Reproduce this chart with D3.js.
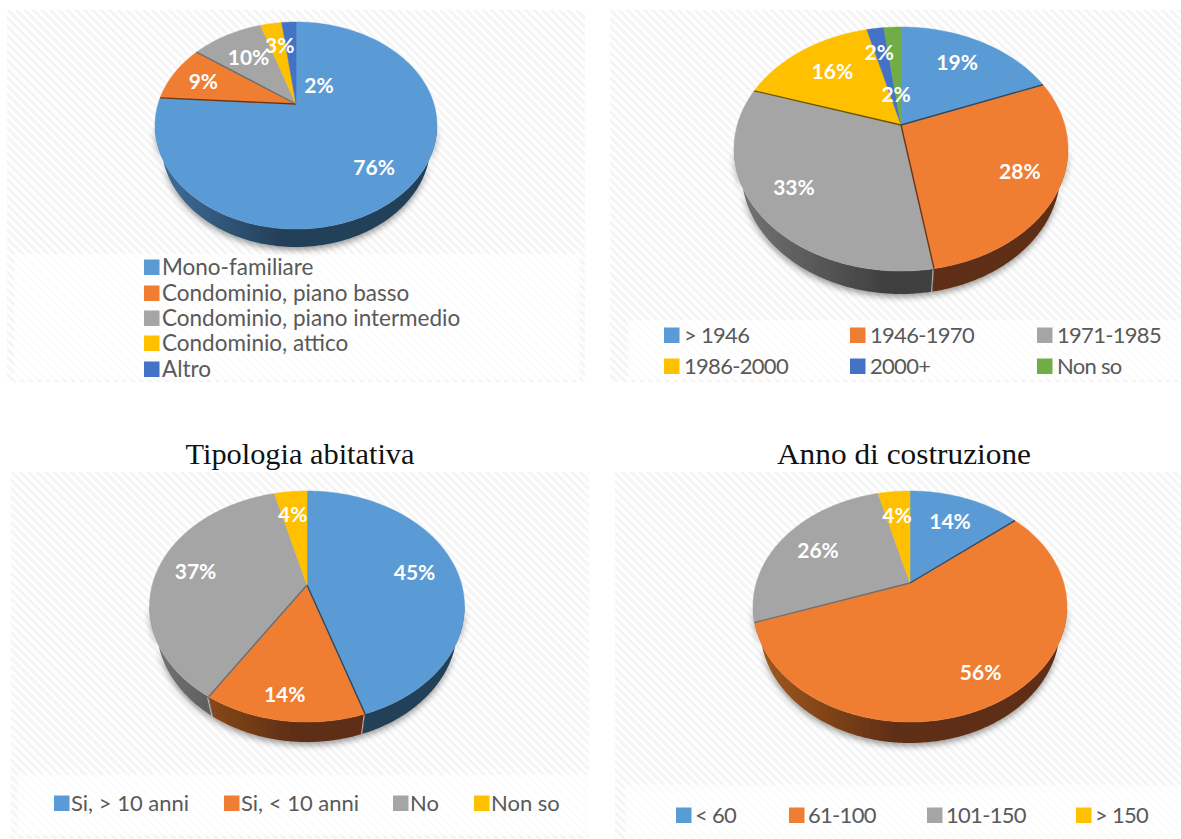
<!DOCTYPE html>
<html>
<head>
<meta charset="utf-8">
<style>
    body { margin: 0; background: #fff; }
    svg { display: block; }
    .legend text { font-family: Lato, "Open Sans", sans-serif; fill: #595959; }
    .pct { font-family: Lato, "Open Sans", sans-serif; font-size: 21px; font-weight: 700; fill: #fff; text-anchor: middle; }
    .title { font-family: "Liberation Serif", serif; font-size: 30px; fill: #111; text-anchor: middle; }
</style>
</head>
<body>
<svg width="1181" height="839"></svg>
<script src="https://d3js.org/d3.v7.min.js"></script>
<script>
    // data
    var tipoNames = ["Mono-familiare", "Condominio, piano basso", "Condominio, piano intermedio", "Condominio, attico", "Altro"];
    var tipoValues = [76, 9, 10, 3, 2];
    var annoNames = ["> 1946", "1946-1970", "1971-1985", "1986-2000", "2000+", "Non so"];
    var annoValues = [19, 28.4, 32.6, 16, 2, 2];
    var ristrNames = ["Si, > 10 anni", "Si, < 10 anni", "No", "Non so"];
    var ristrValues = [45, 14, 37, 4];
    var superfNames = ["< 60", "61-100", "101-150", "> 150"];
    var superfValues = [14, 55.6, 26.4, 4];
    var titles = ["Tipologia abitativa", "Anno di costruzione"];

    var colors = ["#5b9bd5", "#ef7e32", "#a5a5a5", "#ffc000", "#4472c4", "#70ad47"];
    var sideLight = ["#40709c", "#a55a20", "#767676", "#a87f00", "#2f4f88", "#4a7530"];
    var sideDark = ["#233f59", "#5f2f12", "#404040", "#665000", "#203864", "#375623"];
    var cutDark = ["#2a4a68", "#6b3513", "#6e6e6e", "#6b5500", "#203864", "#375623"];

    // layout: panel rects, pie ellipse, label nudges from the projected centroid, legend slots
    var charts = [
        {
            names: tipoNames, values: tipoValues,
            panel: [7, 10, 578, 372], inner: [14, 254, 566, 126],
            cx: 296, cy: 125.5, rx: 141, ry: 103.5, apex: 104, depth: 18,
            nudge: [[10, 12], [-12, -1], [0, 1], [1, -2], [28, 39]],
            legX: [144, 144, 144, 144, 144], legY: [267, 293, 318, 343, 369],
            legSize: 22.5, legSpacing: 0, legGap: 18
        },
        {
            names: annoNames, values: annoValues,
            panel: [610, 10, 571, 372], inner: [628, 320, 553, 60],
            cx: 901, cy: 149, rx: 167, ry: 122, apex: 125, depth: 23,
            nudge: [[2, -5], [20, 7], [-19, 9], [-2, -2], [-4, -5], [1, 37]],
            legX: [664, 850, 1037, 664, 850, 1037], legY: [335, 335, 335, 366, 366, 366],
            legSize: 22, legSpacing: -0.7, legGap: 20
        },
        {
            names: ristrNames, values: ristrValues,
            panel: [11, 472, 578, 367], inner: [17, 775, 572, 60],
            cx: 307, cy: 606.5, rx: 157.5, ry: 115.5, apex: 585, depth: 20,
            nudge: [[10, -1], [-8, 28], [-14, -2], [-3, -6]],
            legX: [54, 224, 393, 474], legY: [803, 803, 803, 803],
            legSize: 22, legSpacing: 0, legGap: 17
        },
        {
            names: superfNames, values: superfValues,
            panel: [615, 472, 566, 367], inner: [625, 785, 556, 54],
            cx: 910, cy: 606.5, rx: 157, ry: 115.5, apex: 583, depth: 21,
            nudge: [[2, -3], [15, 19], [-9, 0], [-2, -4]],
            legX: [676, 789, 927, 1076], legY: [815, 815, 815, 815],
            legSize: 22, legSpacing: -0.7, legGap: 19
        }
    ];
    var wallShrink = 0.955;

    var svg = d3.select("svg");
    var defs = svg.append("defs");

    function stripes(id, stripe) {
        var p = defs.append("pattern")
            .attr("id", id)
            .attr("width", 6).attr("height", 6)
            .attr("patternUnits", "userSpaceOnUse")
            .attr("patternTransform", "rotate(45)");
        p.append("rect").attr("width", 6).attr("height", 6).attr("fill", "#fff");
        p.append("rect").attr("width", 6).attr("height", 3).attr("fill", stripe);
    }
    stripes("hatch", "#f5f5f5");
    stripes("hatchSoft", "#fcfcfc");

    var shadow = defs.append("filter").attr("id", "shadow")
        .attr("x", "-10%").attr("y", "-10%").attr("width", "120%").attr("height", "130%");
    shadow.append("feDropShadow")
        .attr("dx", 0).attr("dy", 3).attr("stdDeviation", 3)
        .attr("flood-color", "#000").attr("flood-opacity", 0.4);

    var pie = d3.pie().sort(null).value(function (d) { return d; });
    var line = d3.line();

    charts.forEach(function (c, n) {
        var g = svg.append("g");
        var a = (c.apex - c.cy) / c.ry;
        var s = Math.sqrt(1 - a * a);

        // tilted disc: maps the unit circle to the ellipse, and its centre to the apex
        function project(r, angle) {
            var u = r * Math.sin(angle), v = -r * Math.cos(angle), d = 1 + a * v;
            return [c.cx + c.rx * u * s / d, c.cy + c.ry * (v + a) / d];
        }
        // bottom of the wall sits a bit narrower than the top face
        function drop(p) {
            return [c.cx + (p[0] - c.cx) * wallShrink, p[1] + c.depth];
        }

        g.append("rect")
            .attr("x", c.panel[0]).attr("y", c.panel[1])
            .attr("width", c.panel[2]).attr("height", c.panel[3])
            .attr("fill", "url(#hatch)");
        g.append("rect")
            .attr("x", c.inner[0]).attr("y", c.inner[1])
            .attr("width", c.inner[2]).attr("height", c.inner[3])
            .attr("fill", "url(#hatchSoft)");

        var arcs = pie(c.values);
        arcs.forEach(function (d) {
            var steps = Math.max(2, Math.ceil((d.endAngle - d.startAngle) / 0.01));
            d.rim = d3.range(steps + 1).map(function (i) {
                return project(1, d.startAngle + (d.endAngle - d.startAngle) * i / steps);
            });
        });

        // gradients for the outer wall
        c.values.forEach(function (v, i) {
            var grad = defs.append("linearGradient")
                .attr("id", "side" + n + "_" + i)
                .attr("gradientUnits", "userSpaceOnUse")
                .attr("x1", c.cx - c.rx).attr("x2", c.cx - c.rx * 0.1)
                .attr("y1", 0).attr("y2", 0);
            grad.append("stop").attr("offset", 0).attr("stop-color", sideLight[i]);
            grad.append("stop").attr("offset", 1).attr("stop-color", sideDark[i]);
        });

        var walls = g.append("g").attr("filter", "url(#shadow)");
        arcs.forEach(function (d, i) {
            var low = d.rim.filter(function (p) { return p[1] >= c.cy - 2; });
            if (low.length < 2) return;
            var lower = low.map(drop).reverse();
            walls.append("path")
                .attr("d", line(low.concat(lower)) + "Z")
                .attr("fill", "url(#side" + n + "_" + i + ")");
        });

        // top faces
        var apexPoint = project(0, 0);
        arcs.forEach(function (d, i) {
            g.append("path")
                .attr("d", line([apexPoint].concat(d.rim)) + "Z")
                .attr("fill", colors[i])
                .attr("stroke", colors[i])
                .attr("stroke-width", 0.5);
        });

        // the cut face shows as a thin dark line, on the slice above the boundary
        arcs.forEach(function (d, i) {
            var deg = d.endAngle * 180 / Math.PI;
            if (deg < 30 || deg > 330) return;
            var owner = deg < 180 ? i : (i + 1) % arcs.length;
            var end = d.rim[d.rim.length - 1];
            g.append("path")
                .attr("d", line([apexPoint, end]))
                .attr("stroke", cutDark[owner])
                .attr("stroke-width", 1.4)
                .attr("fill", "none");
            if (end[1] > c.cy + c.ry * 0.6) {
                g.append("path")
                    .attr("d", line([[end[0] - 1, end[1] + 1], drop([end[0] - 1, end[1]])]))
                    .attr("stroke", "#fff")
                    .attr("stroke-opacity", 0.6)
                    .attr("stroke-width", 1)
                    .attr("fill", "none");
            }
        });

        // percent labels
        g.selectAll(".pct")
            .data(arcs)
            .enter().append("text")
            .attr("class", "pct")
            .attr("x", function (d, i) { return project(0.65, (d.startAngle + d.endAngle) / 2)[0] + c.nudge[i][0]; })
            .attr("y", function (d, i) { return project(0.65, (d.startAngle + d.endAngle) / 2)[1] + c.nudge[i][1] + 7; })
            .text(function (d) { return Math.round(d.value) + "%"; });

        // legend
        var items = g.append("g").attr("class", "legend")
            .selectAll("g")
            .data(c.names)
            .enter().append("g")
            .attr("transform", function (d, i) { return "translate(" + c.legX[i] + "," + c.legY[i] + ")"; });
        items.append("rect")
            .attr("y", -7.5).attr("width", 15.5).attr("height", 15.5)
            .attr("fill", function (d, i) { return colors[i]; });
        items.append("text")
            .attr("x", c.legGap).attr("y", 7.5)
            .style("font-size", c.legSize + "px")
            .style("letter-spacing", c.legSpacing + "px")
            .text(function (d) { return d; });
    });

    svg.append("text").attr("class", "title").attr("x", 300).attr("y", 464)
        .attr("textLength", 229).attr("lengthAdjust", "spacingAndGlyphs").text(titles[0]);
    svg.append("text").attr("class", "title").attr("x", 904).attr("y", 464)
        .attr("textLength", 254).attr("lengthAdjust", "spacingAndGlyphs").text(titles[1]);
</script>
</body>
</html>
